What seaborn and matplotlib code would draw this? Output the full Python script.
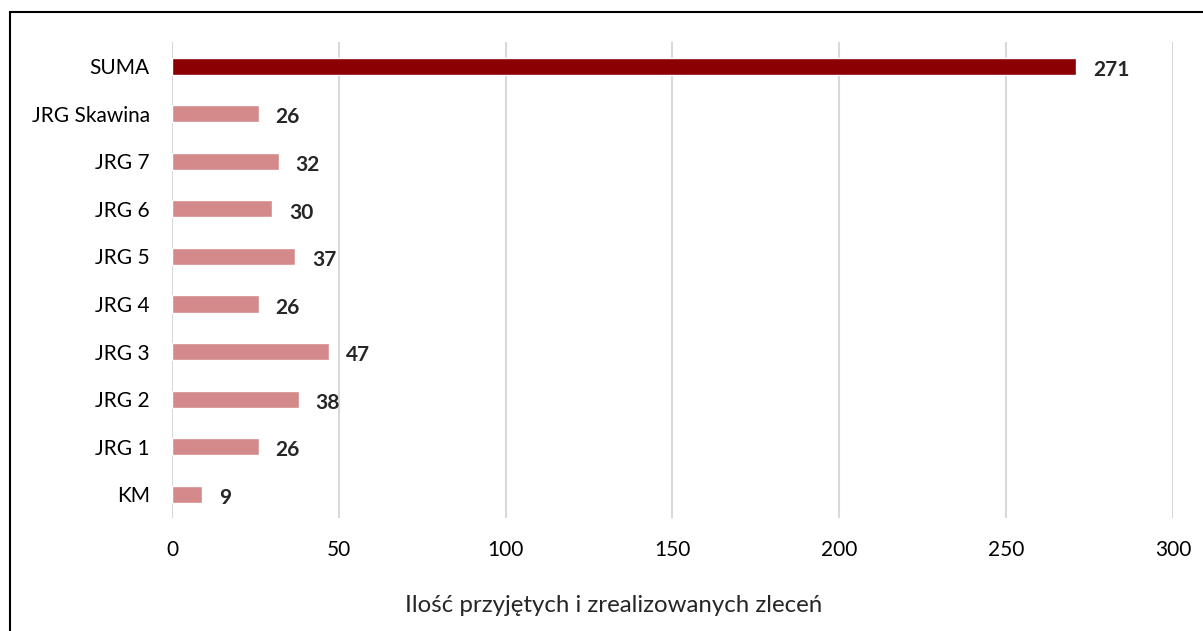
import pandas as pd
import matplotlib.pyplot as plt
import seaborn as sns
from matplotlib.patches import Rectangle

categories = ['SUMA', 'JRG Skawina', 'JRG 7', 'JRG 6', 'JRG 5', 'JRG 4', 'JRG 3', 'JRG 2', 'JRG 1', 'KM']
values = [271, 26, 32, 30, 37, 26, 47, 38, 26, 9]
x_ticks = [0, 50, 100, 150, 200, 250, 300]
x_label = 'Ilość przyjętych i zrealizowanych zleceń'

df = pd.DataFrame({'Jednostka': categories, 'Ilosc': values})
palette = {c: ('#8B0000' if c == 'SUMA' else '#D4898A') for c in categories}

sns.set_style('white')
plt.rcParams['font.family'] = ['Lato', 'DejaVu Sans']

fig = plt.figure(figsize=(12.03, 6.31), dpi=100)
ax = fig.add_axes([0.143, 0.179, 0.832, 0.754])

sns.barplot(data=df, x='Ilosc', y='Jednostka', hue='Jednostka', palette=palette,
            order=categories, width=0.36, legend=False, ax=ax, saturation=1)

ax.set_xlim(0, 300)
ax.set_ylim(len(categories) - 0.5, -0.5)
ax.set_xticks(x_ticks)
ax.xaxis.grid(True, color='#D9D9D9', linewidth=1.5)
ax.set_axisbelow(True)
for s in ax.spines.values():
    s.set_visible(False)
ax.tick_params(axis='both', length=0, labelsize=15, colors='black')
ax.tick_params(axis='x', pad=16)
ax.tick_params(axis='y', pad=16)
ax.set_ylabel('')
ax.set_xlabel(x_label, fontsize=17.3, va='center')
ax.xaxis.set_label_coords(0.4416, -0.183)

for i, v in enumerate(values):
    ax.text(v + 5, i + 0.08, str(v), va='center', ha='left', fontsize=15, fontweight='bold')

fig.patches.append(Rectangle((10 / 1203, -0.1), 1.2, 1 - 12 / 631 + 0.1,
                             transform=fig.transFigure, fill=False,
                             edgecolor='black', linewidth=1.5))

fig.savefig('out.png', dpi=100)
